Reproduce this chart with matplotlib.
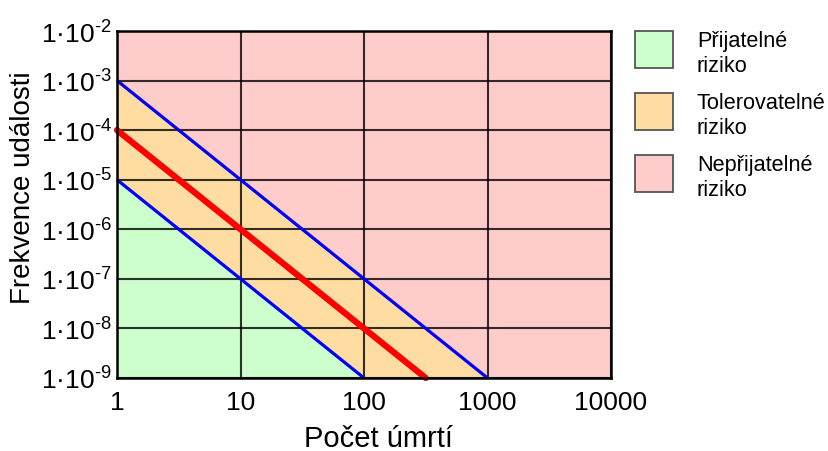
import matplotlib
matplotlib.use("Agg")
import matplotlib.pyplot as plt
from matplotlib.patches import Rectangle
import numpy as np

plt.rcParams['font.family'] = ['Liberation Sans', 'DejaVu Sans']
plt.rcParams['mathtext.fontset'] = 'custom'
plt.rcParams['mathtext.rm'] = 'Liberation Sans'
plt.rcParams['mathtext.it'] = 'Liberation Sans:italic'
plt.rcParams['mathtext.bf'] = 'Liberation Sans:bold'

# ---- data ----
x_ticks = [1, 10, 100, 1000, 10000]
x_tick_labels = ["1", "10", "100", "1000", "10000"]
y_exponents = [-9, -8, -7, -6, -5, -4, -3, -2]

lower_x = [1, 10, 100]
lower_y = [1e-5, 1e-7, 1e-9]
upper_x = [1, 10, 100, 1000]
upper_y = [1e-3, 1e-5, 1e-7, 1e-9]
red_x = [1, 10, 100, 316]
red_y = [1e-4, 1e-6, 1e-8, 1e-9]

legend_labels = ["Přijatelné\nriziko", "Tolerovatelné\nriziko", "Nepřijatelné\nriziko"]
region_colors = ["#ccffcc", "#ffdda2", "#ffcccc"]

# ---- figure ----
W, H = 829, 452
fig = plt.figure(figsize=(W / 100, H / 100), dpi=100)
L, R, T, B = 117, 611, 32, 379
ax = fig.add_axes([L / W, 1 - B / H, (R - L) / W, (B - T) / H])
ax.set_xscale('log')
ax.set_yscale('log')
ax.set_xlim(1, 10000)
ax.set_ylim(1e-9, 1e-2)
ax.set_facecolor(region_colors[2])

ax.fill_between(upper_x, upper_y, 1e-9, color=region_colors[1], lw=0, zorder=1)
ax.fill_between(lower_x, lower_y, 1e-9, color=region_colors[0], lw=0, zorder=1.5)

ax.set_xticks(x_ticks)
ax.set_xticklabels(x_tick_labels)
y_vals = [10.0 ** e for e in y_exponents]
ax.set_yticks(y_vals)
ax.set_yticklabels([r'$\mathregular{1·10^{‐%d}}$' % (-e) for e in y_exponents])
ax.minorticks_off()
ax.tick_params(axis='both', length=0, labelsize=19, colors='black')
ax.tick_params(axis='x', pad=9)
ax.tick_params(axis='y', pad=4)

ax.grid(True, which='major', color='black', alpha=0.8, lw=1.5, zorder=2)
ax.set_axisbelow(False)

ax.plot(lower_x, lower_y, color='#0000ff', lw=2.3, zorder=3, clip_on=False, solid_capstyle='butt')
ax.plot(upper_x, upper_y, color='#0000ff', lw=2.3, zorder=3, clip_on=False, solid_capstyle='butt')
ax.plot(red_x, red_y, color='#ff0000', lw=4.5, zorder=4, clip_on=False, solid_capstyle='round')

for s in ax.spines.values():
    s.set_linewidth(1.8)
    s.set_color('black')
    s.set_zorder(5)

ax.set_xlabel("Počet úmrtí", fontsize=21)
ax.xaxis.set_label_coords((378 - L) / (R - L), (B - 425) / (B - T))
ax.set_ylabel("Frekvence události", fontsize=20)
ax.yaxis.set_label_coords((36 - L) / (R - L), (B - 188) / (B - T))

# ---- legend (manual) ----
for i, (lab, col) in enumerate(zip(legend_labels, region_colors)):
    top = 32 + i * 62
    fig.add_artist(Rectangle((635 / W, 1 - (top + 37) / H), 38 / W, 37 / H,
                             transform=fig.transFigure, facecolor=col,
                             edgecolor='#555555', lw=1.3))
    fig.text(697 / W, 1 - (top - 1) / H, lab, fontsize=15.6, va='top', ha='left',
             linespacing=1.22)

fig.savefig("out.png", dpi=100)
